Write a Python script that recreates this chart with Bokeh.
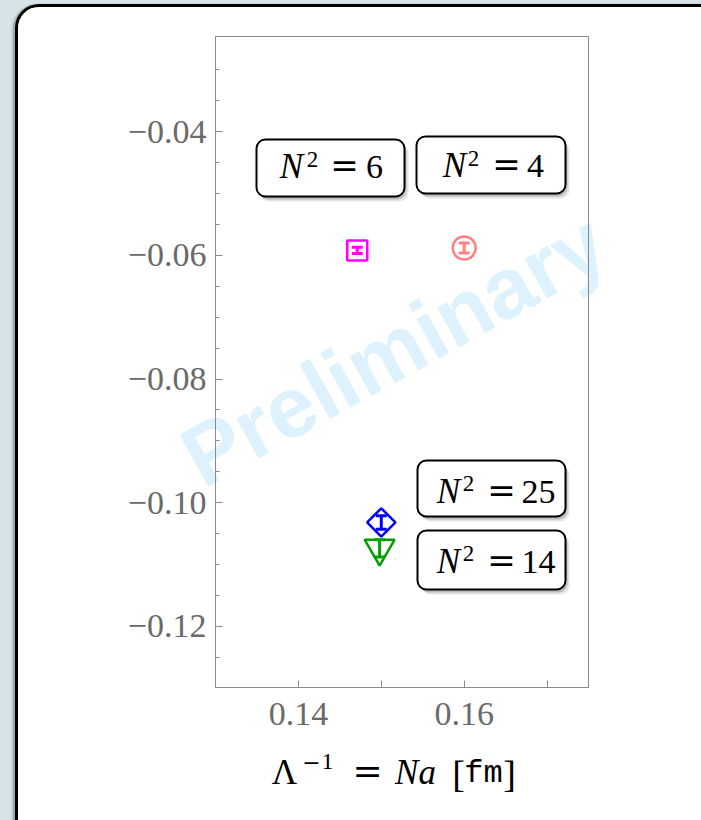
import math

from bokeh.core.properties import value
from bokeh.embed import file_html
from bokeh.layouts import column
from bokeh.models import (BoxAnnotation, ColumnDataSource, CustomJSTickFormatter,
                          FixedTicker, GridBox, Label, Range1d, TeeHead, Whisker)
from bokeh.plotting import figure
from bokeh.resources import INLINE

# ---- data -------------------------------------------------------------
n_squared = [4, 6, 14, 25]
inv_cutoff = [0.1600, 0.1471, 0.1498, 0.1500]      # Lambda^-1 = N a  [fm]
values = [-0.0588, -0.0592, -0.1074, -0.1032]
errors = [0.0008, 0.0005, 0.0014, 0.0011]

colors = ["#ff8080", "#ff00ff", "#00a000", "#0000ff"]
markers = ["circle", "square", "inverted_triangle", "square"]
marker_sizes = [23, 20, 30, 20]
marker_angles = [0.0, 0.0, 0.0, math.pi / 4]

x_major = [0.14, 0.16]
x_minor = [0.15, 0.17]
y_major = [-0.12, -0.10, -0.08, -0.06, -0.04]
y_minor = [-0.125, -0.115, -0.11, -0.105, -0.095, -0.09, -0.085, -0.075,
           -0.07, -0.065, -0.055, -0.05, -0.045, -0.035, -0.03]

X_RANGE = (0.13, 0.175)
Y_RANGE = (-0.1299, -0.0246)

# ---- canvas geometry ----------------------------------------------------
W, H = 686, 824
FRAME_L, FRAME_T, FRAME_R, FRAME_B = 197, 29, 570, 680
BASE_SHIFT = 0.33   # alphabetic baseline correction, in em


def dx(cx):
    """canvas pixel column -> data x"""
    return X_RANGE[0] + (cx - FRAME_L) / (FRAME_R - FRAME_L) * (X_RANGE[1] - X_RANGE[0])


def dy(cy):
    """canvas pixel row -> data y"""
    return Y_RANGE[1] - (cy - FRAME_T) / (FRAME_B - FRAME_T) * (Y_RANGE[1] - Y_RANGE[0])


# ---- backdrop layer: watermark and x-axis title (free of frame clipping) --
back = figure(width=W, height=H, x_range=Range1d(0, W), y_range=Range1d(0, H),
              output_backend="svg", toolbar_location=None, min_border=0)
back.frame_align = False
back.axis.visible = False
back.grid.visible = False
back.outline_line_color = None
back.background_fill_color = "white"
back.border_fill_color = "white"

back.text(x=[375], y=[H - 342], text=["Preliminary"], angle=math.radians(29),
          text_font=value("Liberation Sans"), text_font_style="bold",
          text_font_size=value("86px"), text_color="#ddf2fd",
          text_align="center", text_baseline="middle")


def back_text(cx, cy, s, size, style="normal", font="Liberation Serif"):
    back.text(x=[cx], y=[H - (cy - BASE_SHIFT * size)], text=[s],
              text_font=value(font), text_font_style=style,
              text_font_size=value(f"{size}px"), text_color="black",
              text_align="center", text_baseline="alphabetic")


# Λ^{-1} = N a [fm]
back_text(266, 777, "Λ", 35)
back_text(293, 762, "−", 22, font="DejaVu Serif")
back_text(309, 762, "1", 24)
back_text(349, 775, "=", 36, font="DejaVu Serif")
back_text(397, 777, "Na", 35, "italic")
back_text(440, 779, "[", 38)
back_text(465, 777, "fm", 32, font="Liberation Mono")
back_text(491, 779, "]", 38)

# ---- main plot ------------------------------------------------------------
p = figure(width=W, height=H, x_range=Range1d(*X_RANGE), y_range=Range1d(*Y_RANGE),
           output_backend="svg", toolbar_location=None,
           min_border_left=FRAME_L, min_border_top=FRAME_T,
           min_border_right=W - FRAME_R, min_border_bottom=H - FRAME_B)
p.frame_align = False
p.xgrid.visible = False
p.ygrid.visible = False
p.background_fill_color = None
p.border_fill_color = None
p.outline_line_color = "#8a8a8a"
p.outline_line_width = 1

fmt = CustomJSTickFormatter(code="return (tick < 0 ? '\\u2212' : '') + Math.abs(tick).toFixed(2);")

for ax in (p.xaxis[0], p.yaxis[0]):
    ax.formatter = fmt
    ax.axis_line_color = "#8a8a8a"
    ax.major_tick_line_color = "#8a8a8a"
    ax.minor_tick_line_color = "#8a8a8a"
    ax.major_tick_out = 0
    ax.minor_tick_out = 0
    ax.major_tick_in = 7
    ax.major_label_text_font = "Liberation Serif"
    ax.major_label_text_font_size = "34px"
    ax.major_label_text_color = "#6a6a6a"

p.xaxis.ticker = FixedTicker(ticks=x_major, minor_ticks=x_minor)
p.xaxis.minor_tick_in = 7
p.xaxis.major_label_standoff = 15
p.yaxis.ticker = FixedTicker(ticks=y_major, minor_ticks=y_minor)
p.yaxis.minor_tick_in = 4
p.yaxis.major_label_standoff = 9

# error bars and markers
for i in range(len(n_squared)):
    src = ColumnDataSource(dict(x=[inv_cutoff[i]], upper=[values[i] + errors[i]],
                                lower=[values[i] - errors[i]]))
    c = colors[i]
    p.add_layout(Whisker(source=src, base="x", upper="upper", lower="lower",
                         dimension="height", line_color=c, line_width=3,
                         upper_head=TeeHead(size=11, line_color=c, line_width=3),
                         lower_head=TeeHead(size=11, line_color=c, line_width=3)))

pts = ColumnDataSource(dict(x=inv_cutoff, y=values, color=colors, marker=markers,
                            size=marker_sizes, angle=marker_angles))
p.scatter(x="x", y="y", source=pts, marker="marker", size="size", angle="angle",
          line_color="color", fill_alpha=0, line_width=2.5)

# tags: box (canvas px) and centres of N, superscript, '=', number
tags = [
    # n^2, (left, right, top, bottom), (xN, x2, xEq, xNum), baseline, sup baseline
    (6, (238, 386, 132, 189), (273, 294, 326, 356), 171, 160),
    (4, (398, 547, 129, 186), (436, 455, 488, 517), 170, 159),
    (25, (399, 547, 453, 509), (430, 450, 483, 520), 496, 484),
    (14, (399, 547, 523, 582), (430, 450, 483, 520), 566, 554),
]


def text(cx, cy, s, size, style="normal", font="Liberation Serif"):
    p.add_layout(Label(x=dx(cx), y=dy(cy - BASE_SHIFT * size), text=s,
                       text_font=font, text_font_style=style,
                       text_font_size=f"{size}px", text_color="black",
                       text_align="center", text_baseline="alphabetic", level="overlay"))


for n2, (l, r, t, b), (xn, x2, xe, xv), base, sup in tags:
    for off, alpha in ((5, 0.10), (3, 0.18)):
        p.add_layout(BoxAnnotation(left=dx(l + off - 1), right=dx(r + off - 1),
                                   top=dy(t + off), bottom=dy(b + off),
                                   fill_color="black", fill_alpha=alpha, line_alpha=0,
                                   border_radius=9, level="annotation"))
    p.add_layout(BoxAnnotation(left=dx(l), right=dx(r), top=dy(t), bottom=dy(b),
                               fill_color="white", fill_alpha=1, line_color="black",
                               line_alpha=1, line_width=2, border_radius=9,
                               level="annotation"))
    text(xn, base, "N", 35, "italic")
    text(x2, sup, "2", 23)
    text(xe, base - 2, "=", 34, font="DejaVu Serif")
    text(xv, base, str(n2), 34)

# ---- page: rounded panel on a tinted background -------------------------
panel = GridBox(children=[(back, 0, 0), (p, 0, 0)])
panel.margin = (4, 0, 0, 15)
panel.styles = {
    "border-top": "3px solid black",
    "border-left": "3px solid black",
    "border-top-left-radius": "24px",
    "box-shadow": "-2px 1px 3px rgba(0,0,0,0.35)",
    "overflow": "hidden",
    "background-color": "white",
}

page = column(panel, width=701, height=820,
              styles={"background-color": "#d7e4e7", "overflow": "hidden"})

open("out.html", "w").write(file_html(page, INLINE))
